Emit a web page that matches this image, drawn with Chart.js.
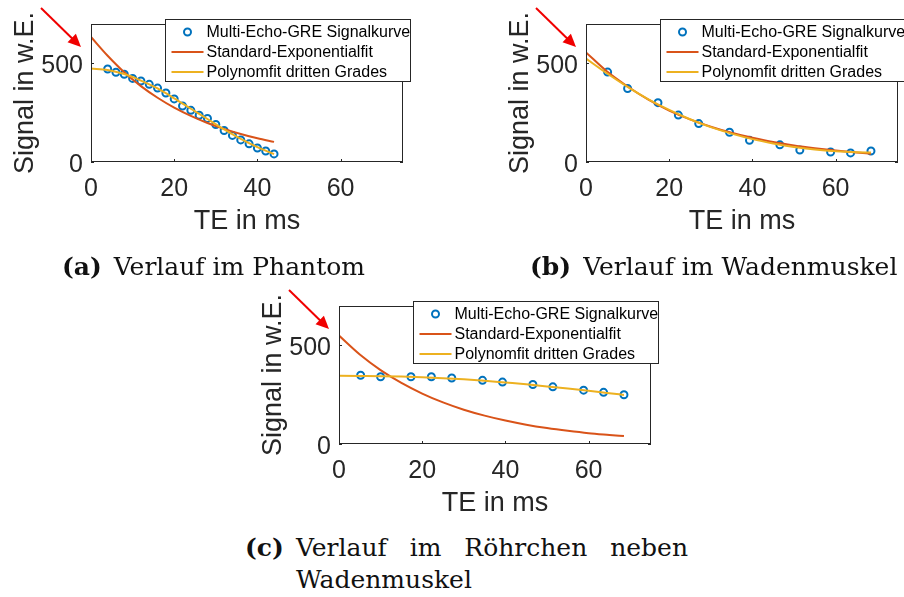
<!DOCTYPE html>
<html>
<head>
<meta charset="utf-8">
<script src="https://cdn.jsdelivr.net/npm/chart.js@4.4.1/dist/chart.umd.min.js"></script>
<style>
  body { margin: 0; background: #fff; width: 904px; height: 597px; position: relative; overflow: hidden; }
  .panel { position: absolute; height: 240px; }
  .cap { position: absolute; font-family: "DejaVu Serif", serif; font-size: 25px; line-height: 32px; color: #111; white-space: nowrap; }
  .cap b { margin-right: 12px; }
</style>
</head>
<body>
<div class="panel" style="left:0;top:0;width:430px"><canvas id="phantom"></canvas></div>
<div class="panel" style="left:495px;top:0;width:409px"><canvas id="wade"></canvas></div>
<div class="panel" style="left:248px;top:282px;width:430px"><canvas id="tube"></canvas></div>

<div class="cap" style="left:62px;top:251px"><b>(a)</b>Verlauf im Phantom</div>
<div class="cap" style="left:530px;top:251px"><b>(b)</b>Verlauf im Wadenmuskel</div>
<div class="cap" style="left:245px;top:532px"><b>(c)</b></div>
<div class="cap" style="left:296px;top:532px;width:392px;text-align:justify;text-align-last:justify">Verlauf im Röhrchen neben</div>
<div class="cap" style="left:296px;top:564px">Wadenmuskel</div>

<script>
// echo times (ms) and measured signal
const tePhantom = [4, 6, 8, 10, 12, 14, 16, 18, 20, 22, 24, 26, 28, 30, 32, 34, 36, 38, 40, 42, 44];
const sigPhantom = [472, 455, 445, 424, 411, 394, 375, 350, 320, 284, 262, 237, 221, 190, 160, 135, 112, 92, 71, 56, 41];

const teMuscle = [5.2, 10.0, 17.3, 22.2, 27.1, 34.5, 39.3, 46.6, 51.4, 58.8, 63.6, 68.5];
const sigWade = [456, 373, 301, 238, 195, 151, 110, 87, 61, 51, 46, 56];
const sigTube = [349, 341, 341, 341, 335, 323, 314, 302, 290, 273, 262, 250];

// fit curves, sampled
const fitTePhantom = [0, 4, 8, 12, 16, 20, 24, 28, 32, 36, 40, 44];
const expPhantom = [634, 539, 455, 385, 326, 276, 234, 198, 168, 142, 120, 102];
const polyPhantom = [474, 467, 446, 413, 373, 323, 270, 218, 165, 117, 75, 40];

const fitTeMuscle = [0, 5, 10, 15, 20, 25, 30, 35, 40, 45, 50, 55, 60, 65, 68.5];
const expWade = [556, 460, 383, 316, 261, 216, 179, 148, 123, 101, 84, 70, 58, 48, 42];
const polyWade = [525, 450, 381, 318, 264, 217, 177, 144, 116, 94, 76, 63, 54, 49, 48];
const expTube = [550, 454, 375, 310, 256, 211, 174, 144, 119, 98, 81, 67, 55, 46, 40];
const polyTube = [346, 345, 344, 342, 339, 334, 328, 321, 312, 303, 292, 281, 270, 258, 249];

const xTicks = [0, 20, 40, 60];
const yTicks = [0, 500];
const seriesNames = ['Multi-Echo-GRE Signalkurve', 'Standard-Exponentialfit', 'Polynomfit dritten Grades'];

const BLUE = '#0072BD', RED = '#D95319', YELLOW = '#EDB120', AXIS = '#262626';

Chart.defaults.font.family = '"Liberation Sans", Arial, sans-serif';
Chart.defaults.color = AXIS;

function pairs(xs, ys) {
  return xs.map((x, i) => ({ x, y: ys[i] }));
}

// axes box with inward ticks, the legend and the red pointer arrow
const framePlugin = {
  id: 'frame',
  afterDraw(chart) {
    const { ctx, chartArea: a, scales: { x, y } } = chart;
    ctx.save();
    ctx.strokeStyle = AXIS;
    ctx.lineWidth = 1;
    ctx.strokeRect(a.left + 0.5, a.top + 0.5, a.width - 1, a.height - 1);
    ctx.beginPath();
    xTicks.forEach(v => {
      const px = Math.round(x.getPixelForValue(v)) + 0.5;
      ctx.moveTo(px, a.bottom); ctx.lineTo(px, a.bottom - 3);
      ctx.moveTo(px, a.top); ctx.lineTo(px, a.top + 3);
    });
    yTicks.forEach(v => {
      const py = Math.round(y.getPixelForValue(v)) + 0.5;
      ctx.moveTo(a.left, py); ctx.lineTo(a.left + 3, py);
      ctx.moveTo(a.right, py); ctx.lineTo(a.right - 3, py);
    });
    ctx.stroke();

    // legend
    const lx = Math.round(a.left + 74) + 0.5, ly = Math.round(a.top - 5) + 0.5;
    ctx.fillStyle = '#fff';
    ctx.fillRect(lx, ly, 245, 62);
    ctx.strokeRect(lx, ly, 245, 62);
    ctx.font = '16px "Liberation Sans", Arial, sans-serif';
    ctx.textBaseline = 'middle';
    chart.data.datasets.forEach((ds, i) => {
      const ry = ly + 12.5 + i * 20;
      if (ds.showLine === false) {
        ctx.beginPath();
        ctx.strokeStyle = ds.pointBorderColor;
        ctx.lineWidth = ds.pointBorderWidth;
        ctx.arc(lx + 22, ry, ds.pointRadius, 0, Math.PI * 2);
        ctx.stroke();
      } else {
        ctx.beginPath();
        ctx.strokeStyle = ds.borderColor;
        ctx.lineWidth = ds.borderWidth;
        ctx.moveTo(lx + 6, ry); ctx.lineTo(lx + 38, ry);
        ctx.stroke();
      }
      ctx.fillStyle = '#000';
      ctx.fillText(ds.label, lx + 41, ry + 1);
    });

    // red arrow pointing at the signal axis near t = 0
    const tx = a.left - 50, ty = a.top - 16, hx = a.left - 10, hy = a.top + 23;
    const ang = Math.atan2(hy - ty, hx - tx);
    ctx.strokeStyle = '#F00000';
    ctx.fillStyle = '#F00000';
    ctx.lineWidth = 2;
    ctx.beginPath();
    ctx.moveTo(tx, ty);
    ctx.lineTo(hx - 8 * Math.cos(ang), hy - 8 * Math.sin(ang));
    ctx.stroke();
    ctx.beginPath();
    ctx.moveTo(hx, hy);
    ctx.lineTo(hx - 13 * Math.cos(ang) + 6 * Math.sin(ang), hy - 13 * Math.sin(ang) - 6 * Math.cos(ang));
    ctx.lineTo(hx - 13 * Math.cos(ang) - 6 * Math.sin(ang), hy - 13 * Math.sin(ang) + 6 * Math.cos(ang));
    ctx.closePath();
    ctx.fill();
    ctx.restore();
  }
};

function panel(id, te, signal, fitTe, expFit, polyFit, padRight) {
  return new Chart(document.getElementById(id), {
    type: 'line',
    data: {
      datasets: [
        {
          label: seriesNames[0], data: pairs(te, signal), showLine: false,
          pointStyle: 'circle', pointRadius: 3.5, pointBorderWidth: 2,
          pointBorderColor: BLUE, pointBackgroundColor: 'rgba(0,0,0,0)', order: 2
        },
        {
          label: seriesNames[1], data: pairs(fitTe, expFit), borderColor: RED, borderWidth: 2,
          pointRadius: 0, cubicInterpolationMode: 'monotone', order: 1
        },
        {
          label: seriesNames[2], data: pairs(fitTe, polyFit), borderColor: YELLOW, borderWidth: 2,
          pointRadius: 0, cubicInterpolationMode: 'monotone', order: 0
        }
      ]
    },
    options: {
      responsive: true,
      maintainAspectRatio: false,
      animation: false,
      layout: { padding: { left: 0, top: 24, right: padRight, bottom: 0 } },
      plugins: { legend: { display: false }, tooltip: { enabled: false } },
      scales: {
        x: {
          type: 'linear', min: 0, max: 75,
          afterBuildTicks: s => { s.ticks = xTicks.map(value => ({ value })); },
          afterFit: s => { s.height = 78; },
          grid: { display: false, drawTicks: false }, border: { display: false },
          ticks: { font: { size: 25 }, padding: 12, maxRotation: 0 },
          title: { display: true, text: 'TE in ms', font: { size: 27 }, padding: { top: 0, bottom: 2 } }
        },
        y: {
          type: 'linear', min: 0, max: 700,
          afterBuildTicks: s => { s.ticks = yTicks.map(value => ({ value })); },
          afterFit: s => { s.width = 91; },
          grid: { display: false, drawTicks: false }, border: { display: false },
          ticks: { font: { size: 25 }, padding: 8, labelOffset: 3 },
          title: { display: true, text: 'Signal in w.E.', font: { size: 27 }, padding: { top: 9, bottom: 0 } }
        }
      }
    },
    plugins: [framePlugin]
  });
}

panel('phantom', tePhantom, sigPhantom, fitTePhantom, expPhantom, polyPhantom, 27);
panel('wade', teMuscle, sigWade, fitTeMuscle, expWade, polyWade, 6);
panel('tube', teMuscle, sigTube, fitTeMuscle, expTube, polyTube, 27);
</script>
</body>
</html>
